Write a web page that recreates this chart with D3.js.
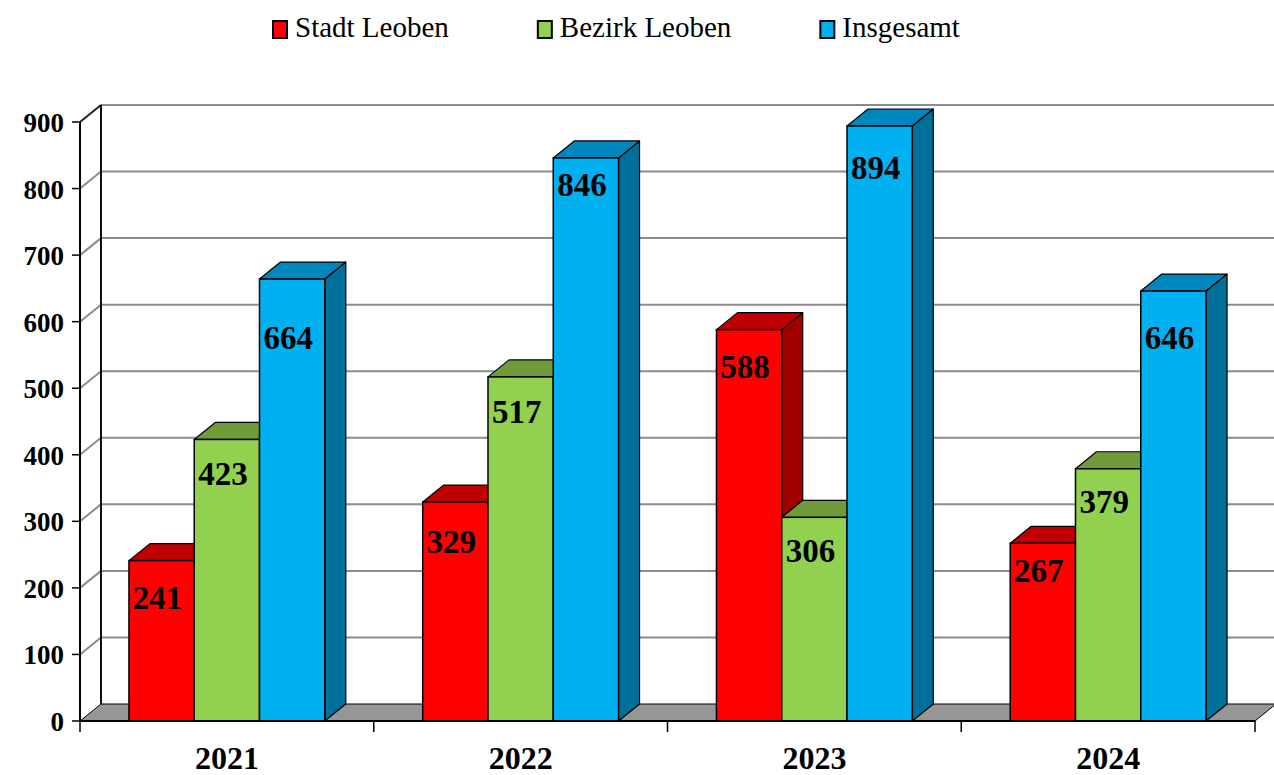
<!DOCTYPE html>
<html>
<head>
<meta charset="utf-8">
<script src="https://cdn.jsdelivr.net/npm/d3@7"></script>
<style>
  body { margin: 0; background: #fff; }
  svg { display: block; }
</style>
</head>
<body>
<svg id="chart" width="1274" height="775"></svg>
<script>
const years = ['2021', '2022', '2023', '2024'];
const seriesNames = ['Stadt Leoben', 'Bezirk Leoben', 'Insgesamt'];
const stadt = [241, 329, 588, 267];
const bezirk = [423, 517, 306, 379];
const insgesamt = [664, 846, 894, 646];
const yTicks = [0, 100, 200, 300, 400, 500, 600, 700, 800, 900];

// how far below each bar top its label sits (labels were placed by hand)
const labelShift = [
  [48, 51, 48, 39],
  [46, 46, 45, 44],
  [70, 38, 53, 58]
];

const colors = [
  { front: '#ff0000', top: '#c00000', side: '#a00000' },
  { front: '#92d050', top: '#6f9b3b', side: '#5e8531' },
  { front: '#00b0f0', top: '#0086bf', side: '#006f99' }
];

const font = '"Liberation Serif", "Times New Roman", serif';
const svg = d3.select('#chart');
const x0 = 80, x1 = 1255;
const dx = 21, dy = -17;   // depth offset of the 3d box

const y = d3.scaleLinear().domain([0, 900]).range([721, 122]);

const xScale = d3.scaleBand()
  .domain(years)
  .range([x0, x1])
  .paddingInner(1 / 3)
  .paddingOuter(1 / 6);

const xSeries = d3.scaleBand()
  .domain(seriesNames)
  .range([0, xScale.bandwidth()]);

const step = xScale.step();

// floor
const y0 = y(0);
svg.append('path')
  .attr('d', `M${x0},${y0}L${x1},${y0}L${x1 + dx},${y0 + dy}L${x0 + dx},${y0 + dy}Z`)
  .attr('fill', '#969696')
  .attr('stroke', '#000')
  .attr('stroke-width', 1);

// back gridlines and side diagonals
yTicks.slice(1).forEach(t => {
  svg.append('line')
    .attr('x1', x0 + dx).attr('x2', x1 + dx + 10)
    .attr('y1', y(t) + dy).attr('y2', y(t) + dy)
    .attr('stroke', '#8c8c8c').attr('stroke-width', 2);
  svg.append('line')
    .attr('x1', x0).attr('x2', x0 + dx)
    .attr('y1', y(t)).attr('y2', y(t) + dy)
    .attr('stroke', t === 900 ? '#222' : '#8c8c8c').attr('stroke-width', 2);
});

// back wall vertical
svg.append('line')
  .attr('x1', x0 + dx).attr('x2', x0 + dx)
  .attr('y1', y(0) + dy).attr('y2', y(900) + dy)
  .attr('stroke', '#111').attr('stroke-width', 2);

// bars
const values = [stadt, bezirk, insgesamt];
years.forEach((yr, i) => {
  seriesNames.forEach((s, j) => {
    const v = values[j][i];
    const bx = xScale(yr) + xSeries(s);
    const bw = xSeries.bandwidth();
    const top = y(v), bot = y(0);
    const c = colors[j];
    const g = svg.append('g');
    // side face
    g.append('path')
      .attr('d', `M${bx + bw},${bot}L${bx + bw + dx},${bot + dy}L${bx + bw + dx},${top + dy}L${bx + bw},${top}Z`)
      .attr('fill', c.side).attr('stroke', '#000').attr('stroke-width', 1.2)
      .attr('stroke-linejoin', 'round');
    // top face
    g.append('path')
      .attr('d', `M${bx},${top}L${bx + dx},${top + dy}L${bx + bw + dx},${top + dy}L${bx + bw},${top}Z`)
      .attr('fill', c.top).attr('stroke', '#000').attr('stroke-width', 1.2)
      .attr('stroke-linejoin', 'round');
    // front face
    g.append('rect')
      .attr('x', bx).attr('y', top)
      .attr('width', bw).attr('height', bot - top)
      .attr('fill', c.front).attr('stroke', '#000').attr('stroke-width', 1.5);
    g.append('text')
      .attr('x', bx + bw / 2 - 4)
      .attr('y', top + labelShift[j][i])
      .attr('text-anchor', 'middle')
      .attr('font-family', font)
      .attr('font-weight', 'bold')
      .attr('font-size', 33)
      .text(v);
  });
});

// front y axis
svg.append('line')
  .attr('x1', x0).attr('x2', x0)
  .attr('y1', y(0)).attr('y2', y(900))
  .attr('stroke', '#000').attr('stroke-width', 2);

yTicks.forEach(t => {
  svg.append('line')
    .attr('x1', x0 - 8).attr('x2', x0)
    .attr('y1', y(t)).attr('y2', y(t))
    .attr('stroke', '#000').attr('stroke-width', 1.5);
  svg.append('text')
    .attr('x', 64)
    .attr('y', y(t) + 10)
    .attr('text-anchor', 'end')
    .attr('font-family', font)
    .attr('font-weight', 'bold')
    .attr('font-size', 27)
    .text(t);
});

// front x axis
svg.append('line')
  .attr('x1', x0).attr('x2', x1)
  .attr('y1', y0).attr('y2', y0)
  .attr('stroke', '#000').attr('stroke-width', 2);

d3.range(years.length + 1).forEach(k => {
  const tx = x0 + k * step;
  svg.append('line')
    .attr('x1', tx).attr('x2', tx)
    .attr('y1', y0).attr('y2', y0 + 11)
    .attr('stroke', '#000').attr('stroke-width', 1.5);
});

years.forEach(yr => {
  svg.append('text')
    .attr('x', xScale(yr) + xScale.bandwidth() / 2)
    .attr('y', 769)
    .attr('text-anchor', 'middle')
    .attr('font-family', font)
    .attr('font-weight', 'bold')
    .attr('font-size', 32)
    .text(yr);
});

// legend
let lx = 273;
seriesNames.forEach((s, j) => {
  svg.append('rect')
    .attr('x', lx).attr('y', 21)
    .attr('width', 14).attr('height', 17)
    .attr('fill', colors[j].front)
    .attr('stroke', '#000').attr('stroke-width', 2);
  const t = svg.append('text')
    .attr('x', lx + 22)
    .attr('y', 37)
    .attr('font-family', font)
    .attr('font-size', 29)
    .text(s);
  lx = lx + 22 + t.node().getComputedTextLength() + 89;
});
</script>
</body>
</html>
